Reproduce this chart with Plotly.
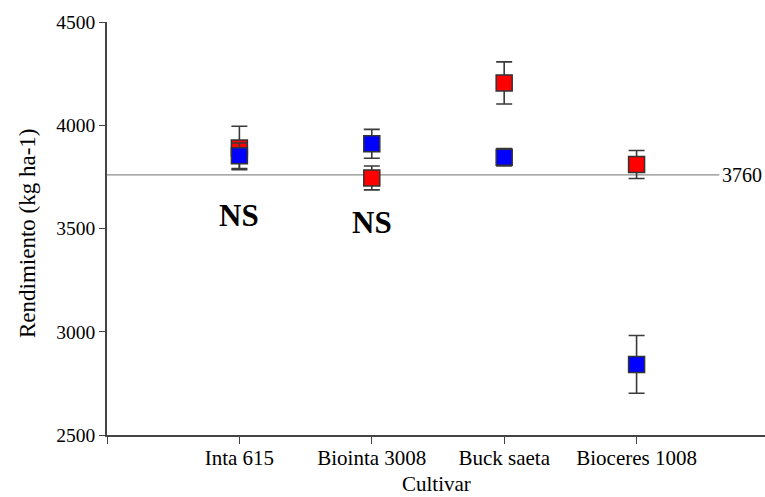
import plotly.graph_objects as go

categories = ["Inta 615", "Biointa 3008", "Buck saeta", "Bioceres 1008"]
cat_pos = [1, 2, 3, 4]
red_values = [3890, 3745, 4205, 3810]
red_errors = [105, 58, 102, 68]
blue_values = [3852, 3910, 3845, 2842]
blue_errors = [62, 70, 42, 140]
mean_value = 3760
ns_labels = ["NS", "NS"]
ns_pos = [1, 2]
ns_y = [3565, 3530]
y_ticks = [2500, 3000, 3500, 4000, 4500]

FONT = "Liberation Serif, Times New Roman, serif"
err_col = "#3a3a3a"

fig = go.Figure()
fig.add_trace(go.Scatter(
    x=cat_pos, y=red_values, mode="markers",
    marker=dict(symbol="square", size=16, color="#ff0000",
                line=dict(color="#333333", width=1.5)),
    error_y=dict(type="data", array=red_errors, color=err_col, thickness=1.6, width=8),
    showlegend=False, cliponaxis=False))
fig.add_trace(go.Scatter(
    x=cat_pos, y=blue_values, mode="markers",
    marker=dict(symbol="square", size=16, color="#0000ff",
                line=dict(color="#333333", width=1.5)),
    error_y=dict(type="data", array=blue_errors, color=err_col, thickness=1.6, width=8),
    showlegend=False, cliponaxis=False))

fig.add_shape(type="line", xref="x", yref="y", x0=0, x1=4.625, y0=mean_value, y1=mean_value,
              line=dict(color="#8c8c8c", width=1.2), layer="below")
fig.add_annotation(x=4.63, y=mean_value, xref="x", yref="y", text=str(mean_value),
                   showarrow=False, xanchor="left", yanchor="middle",
                   font=dict(family=FONT, size=20, color="#000"))
for p, yy, t in zip(ns_pos, ns_y, ns_labels):
    fig.add_annotation(x=p, y=yy, xref="x", yref="y", text="<b>%s</b>" % t,
                       showarrow=False, xanchor="center", yanchor="middle",
                       font=dict(family=FONT, size=31, color="#000"))

fig.add_annotation(x=(27 - 107) / 658, y=(435 - 233) / 413, xref="paper", yref="paper",
                   text="Rendimiento (kg ha-1)",
                   textangle=-90, showarrow=False, xanchor="center", yanchor="middle",
                   font=dict(family=FONT, size=23, color="#000"))
fig.add_annotation(x=(436 - 107) / 658, y=(435 - 484) / 413, xref="paper", yref="paper",
                   text="Cultivar",
                   showarrow=False, xanchor="center", yanchor="middle",
                   font=dict(family=FONT, size=21, color="#000"))

fig.update_layout(
    template="none",
    width=765, height=497,
    margin=dict(l=107, r=0, t=22, b=62),
    paper_bgcolor="white", plot_bgcolor="white",
    font=dict(family=FONT, size=20, color="#000"),
    xaxis=dict(range=[0, 4.97], tickvals=[0] + cat_pos, ticktext=[""] + categories,
               automargin=False, ticklabelstandoff=-4,
               showgrid=False, zeroline=False, showline=True, linecolor="#444", linewidth=1.6,
               ticks="outside", ticklen=7, tickwidth=1.4, tickcolor="#444",
               tickfont=dict(family=FONT, size=21, color="#000")),
    yaxis=dict(range=[2500, 4500], tickvals=y_ticks, automargin=False,
               showgrid=False, zeroline=False, showline=True, linecolor="#444", linewidth=1.6,
               ticks="outside", ticklen=6, tickwidth=1.4, tickcolor="#444",
               tickfont=dict(family=FONT, size=19.5, color="#000")),
)

fig.write_html("out.html", config={"displayModeBar": False},
               post_script="document.body.style.margin='0px';document.body.style.overflow='hidden';")
